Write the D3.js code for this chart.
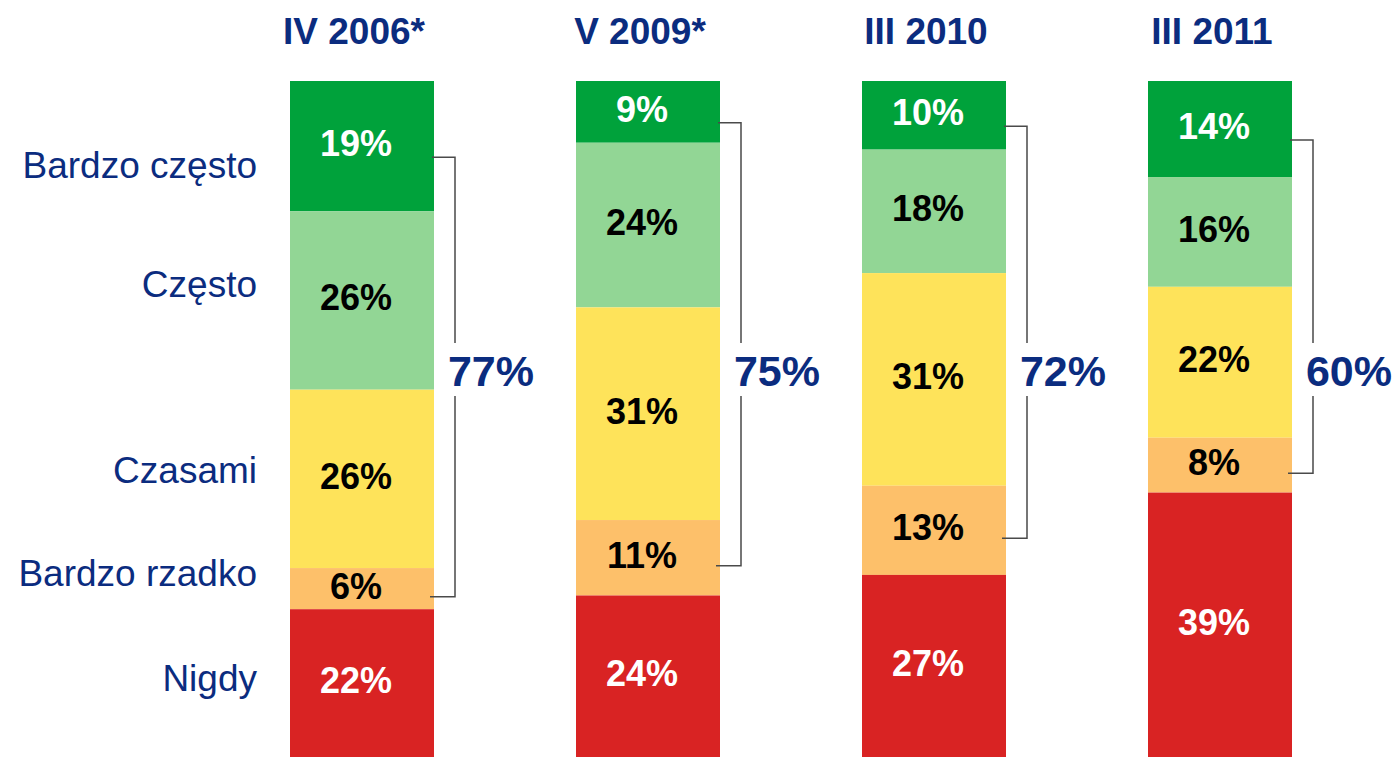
<!DOCTYPE html>
<html>
<head>
<meta charset="utf-8">
<script src="https://cdn.jsdelivr.net/npm/d3@7"></script>
<style>
  html, body { margin: 0; padding: 0; background: #fff; }
  svg { display: block; font-family: "Liberation Sans", Arial, sans-serif; }
</style>
</head>
<body>
<svg id="chart" width="1396" height="757"></svg>
<script>
  // periods (columns)
  const periods = ["IV 2006*", "V 2009*", "III 2010", "III 2011"];
  // answer categories, top to bottom
  const categories = ["Bardzo często", "Często", "Czasami", "Bardzo rzadko", "Nigdy"];
  // percent shares per period, same order as categories
  const bardzoCzesto = [19, 9, 10, 14];
  const czesto = [26, 24, 18, 16];
  const czasami = [26, 31, 31, 22];
  const bardzoRzadko = [6, 11, 13, 8];
  const nigdy = [22, 24, 27, 39];
  // bracket totals (first four categories)
  const bracketTotals = [77, 75, 72, 60];
  // where the left-hand category labels sit, in percent of the first column
  const categoryLabelAt = [12.2, 29.6, 56.6, 71.7, 87];

  const colors = ["#00a23b", "#92d695", "#fee35a", "#fdc06a", "#d92323"];
  const textColors = ["#fff", "#000", "#000", "#000", "#fff"];
  const navy = "#0b2c7f";

  const width = 1396, height = 757;
  const svg = d3.select("#chart");

  const x = d3.scaleBand().domain(periods).range([290, 1292]).paddingInner(0.4965).paddingOuter(0);
  const y = d3.scaleLinear().domain([0, 100]).range([81, 767]);

  const seriesValues = [bardzoCzesto, czesto, czasami, bardzoRzadko, nigdy];
  const rows = periods.map((p, i) => {
    const row = { period: p };
    categories.forEach((c, k) => { row[c] = seriesValues[k][i]; });
    return row;
  });
  const stacked = d3.stack().keys(categories)(rows);

  const layers = svg.append("g").selectAll("g")
    .data(stacked)
    .join("g")
    .attr("fill", (d, k) => colors[k]);

  layers.selectAll("rect")
    .data((d) => d)
    .join("rect")
    .attr("x", (d) => x(d.data.period))
    .attr("width", x.bandwidth())
    .attr("y", (d) => y(d[0]))
    .attr("height", (d) => y(d[1]) - y(d[0]));

  // value labels
  stacked.forEach((layer, k) => {
    svg.append("g").selectAll("text")
      .data(layer)
      .join("text")
      .attr("x", (d) => x(d.data.period) + x.bandwidth() / 2 - 6)
      .attr("y", (d) => {
        const mid = (y(d[0]) + Math.min(y(d[1]), height)) / 2;
        return mid + 36 * 0.36 - 3;
      })
      .attr("text-anchor", "middle")
      .attr("font-size", 36)
      .attr("font-weight", "bold")
      .attr("fill", textColors[k])
      .text((d) => `${d[1] - d[0]}%`);
  });

  // column titles
  svg.append("g").selectAll("text")
    .data(periods)
    .join("text")
    .attr("x", (d) => x(d) + x.bandwidth() / 2 - 8)
    .attr("y", 44)
    .attr("text-anchor", "middle")
    .attr("font-size", 37)
    .attr("font-weight", "bold")
    .attr("fill", navy)
    .text((d) => d);

  // category labels on the left
  svg.append("g").selectAll("text")
    .data(categories)
    .join("text")
    .attr("x", 257)
    .attr("y", (d, k) => y(categoryLabelAt[k]) + 37 * 0.36)
    .attr("text-anchor", "end")
    .attr("font-size", 37)
    .attr("fill", navy)
    .text((d) => d);

  // brackets from the first segment to the "Bardzo rzadko" segment
  const firstLayer = stacked[0];
  const orangeLayer = stacked[3];
  const labelY = 371;
  const brackets = svg.append("g");
  periods.forEach((p, i) => {
    const barRight = x(p) + x.bandwidth();
    const bx = barRight + 21;
    const top = y((firstLayer[i][0] + firstLayer[i][1]) / 2) + 11;
    const bottom = y((orangeLayer[i][0] + orangeLayer[i][1]) / 2) + 8;
    brackets.append("path")
      .attr("d", `M${barRight - 2},${top}H${bx}V${labelY - 28}M${bx},${labelY + 25}V${bottom}H${barRight - 4}`)
      .attr("fill", "none")
      .attr("stroke", "#4a4a4a")
      .attr("stroke-width", 1.5);
    brackets.append("text")
      .attr("x", bx + 36)
      .attr("y", labelY + 43 * 0.36)
      .attr("text-anchor", "middle")
      .attr("font-size", 43)
      .attr("font-weight", "bold")
      .attr("fill", navy)
      .text(`${bracketTotals[i]}%`);
  });
</script>
</body>
</html>
